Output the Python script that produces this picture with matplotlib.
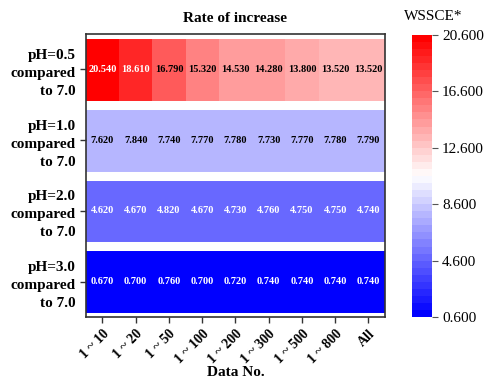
import numpy as np
import matplotlib
matplotlib.use("Agg")
import matplotlib.pyplot as plt
from matplotlib.colors import BoundaryNorm, ListedColormap

plt.rcParams['font.family'] = ['Liberation Serif', 'DejaVu Serif']

row_labels = ["pH=0.5\ncompared\nto 7.0", "pH=1.0\ncompared\nto 7.0",
              "pH=2.0\ncompared\nto 7.0", "pH=3.0\ncompared\nto 7.0"]
col_labels = ["1 ~ 10", "1 ~ 20", "1 ~ 50", "1 ~ 100", "1 ~ 200",
              "1 ~ 300", "1 ~ 500", "1 ~ 800", "All"]
ph05 = [20.54, 18.61, 16.79, 15.32, 14.53, 14.28, 13.80, 13.52, 13.52]
ph10 = [7.62, 7.84, 7.74, 7.77, 7.78, 7.73, 7.77, 7.78, 7.79]
ph20 = [4.62, 4.67, 4.82, 4.67, 4.73, 4.76, 4.75, 4.75, 4.74]
ph30 = [0.67, 0.70, 0.76, 0.70, 0.72, 0.74, 0.74, 0.74, 0.74]
vmin, vmax = 0.6, 20.6
cbar_ticks = [0.6, 4.6, 8.6, 12.6, 16.6, 20.6]

data = np.array([ph05, ph10, ph20, ph30])
nlev = 40
bounds = np.linspace(vmin, vmax, nlev + 1)
cmap = ListedColormap(plt.get_cmap('bwr')(np.linspace(0, 1, nlev)))
norm = BoundaryNorm(bounds, cmap.N)

fig = plt.figure(figsize=(4.85, 3.78), dpi=100)
ax = fig.add_axes([0.177, 0.161, 0.617, 0.749])
cax = fig.add_axes([0.849, 0.161, 0.041, 0.747])

nr, nc = data.shape
mesh = ax.pcolormesh(np.arange(nc + 1), np.arange(nr + 1), data,
                     cmap=cmap, norm=norm)
ax.set_xlim(0, nc)
ax.set_ylim(nr, 0)

# white separators between the rows
for y in range(nr + 1):
    ax.axhline(y, color='white', lw=6.5, zorder=2)

for i in range(nr):
    for j in range(nc):
        v = data[i, j]
        r, g, b, _ = cmap(norm(v))
        lum = 0.299 * r + 0.587 * g + 0.114 * b
        ax.text(j + 0.5, i + 0.5, f"{v:.3f}", ha='center', va='center',
                fontsize=7.5, fontweight='bold',
                color='white' if lum < 0.5 else 'black', zorder=3)

ax.set_xticks(np.arange(nc) + 0.5)
ax.set_xticklabels(col_labels, rotation=45, ha='right', rotation_mode='anchor',
                   fontsize=10, fontweight='bold')
ax.set_yticks(np.arange(nr) + 0.5)
ax.set_yticklabels(row_labels, fontsize=11, fontweight='bold',
                   linespacing=1.5)
ax.tick_params(axis='both', direction='out', length=4, width=1, color='#333333')
for s in ax.spines.values():
    s.set_color('#333333')
    s.set_linewidth(1.2)
    s.set_zorder(4)
ax.set_title("Rate of increase", fontsize=11, fontweight='bold', pad=9)
ax.set_xlabel("Data No.", fontsize=11, fontweight='bold', labelpad=0)

cb = fig.colorbar(mesh, cax=cax, ticks=cbar_ticks, drawedges=False)
cb.outline.set_visible(False)
cb.ax.minorticks_off()
cb.ax.set_yticklabels([f"{t:.3f}" for t in cbar_ticks], fontsize=11)
cb.ax.tick_params(length=4, width=0.8, color='#555555')
cax.text(1.1, 1.04, "WSSCE*", transform=cax.transAxes, ha='center',
         va='bottom', fontsize=11)

fig.savefig("out.png", dpi=100)
